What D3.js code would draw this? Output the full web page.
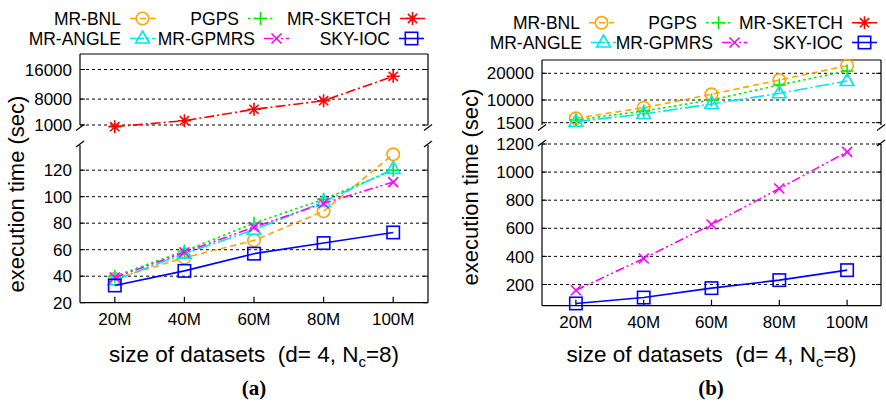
<!DOCTYPE html>
<html><head><meta charset="utf-8">
<script src="https://cdn.jsdelivr.net/npm/d3@7"></script>
<style>
body{margin:0;background:#fff;}
svg{display:block;font-family:"Liberation Sans",Arial,Helvetica,sans-serif;}
</style></head><body>
<svg id="chart" width="886" height="404"></svg>
<script>
// Dataset sizes on the x axis
const categories = ["20M", "40M", "60M", "80M", "100M"];

// (a) execution time in seconds
const aSketch = [550, 2160, 5240, 7570, 14160];
const aBnl    = [38, 54, 67, 89, 132];
const aPgps   = [40, 59, 80, 98, 120];
const aAngle  = [37, 57, 75, 96, 121];
const aGpmrs  = [39, 58, 77, 95, 111];
const aSkyIoc = [33, 44, 57, 65, 73];

// (b) execution time in seconds
const bBnl    = [3150, 7120, 12140, 17490, 22850];
const bPgps   = [2500, 5880, 10000, 15620, 20860];
const bAngle  = [1870, 4760, 8500, 12510, 17120];
const bGpmrs  = [159, 385, 627, 883, 1144];
const bSkyIoc = [65, 107, 174, 231, 302];

// Tick values of each axis segment
const aUpperTicks = [1000, 8000, 16000];
const aLowerTicks = [20, 40, 60, 80, 100, 120];
const bUpperTicks = [1500, 10000, 20000];
const bLowerTicks = [200, 400, 600, 800, 1000, 1200];

const seriesNames = ["MR-BNL", "PGPS", "MR-SKETCH", "MR-ANGLE", "MR-GPMRS", "SKY-IOC"];

// gnuplot-like line styles
const styles = {
  "MR-BNL":    {color: "#FFA500", dash: "6,4",            marker: "circle"},
  "PGPS":      {color: "#00EE00", dash: "2.5,3",          marker: "plus"},
  "MR-SKETCH": {color: "#FF0000", dash: "10,3,2,3",       marker: "star"},
  "MR-ANGLE":  {color: "#00E5EE", dash: "14,3,2,3",       marker: "triangle"},
  "MR-GPMRS":  {color: "#FF00FF", dash: "9,3,2,3,2,3",    marker: "x"},
  "SKY-IOC":   {color: "#0000FF", dash: null,             marker: "square"}
};

const panels = [
  {
    left: 80, right: 428, label: "(a)", labelX: 254,
    yTitle: {x: 24, y: 194},
    legendRows: [18.5, 38.5],
    legend: [
      {name: "MR-BNL", end: 121, row: 0}, {name: "PGPS", end: 239, row: 0}, {name: "MR-SKETCH", end: 391, row: 0},
      {name: "MR-ANGLE", end: 121, row: 1}, {name: "MR-GPMRS", end: 255, row: 1}, {name: "SKY-IOC", end: 390, row: 1}
    ],
    upper: {top: 54, bottom: 125, domain: [1000, 16000], range: [125, 69.5], ticks: aUpperTicks,
            series: [["MR-SKETCH", aSketch]]},
    lower: {top: 145, bottom: 302.7, domain: [20, 139], ticks: aLowerTicks, labelBottom: true,
            series: [["MR-BNL", aBnl], ["PGPS", aPgps], ["MR-ANGLE", aAngle], ["MR-GPMRS", aGpmrs], ["SKY-IOC", aSkyIoc]]}
  },
  {
    left: 542, right: 881, label: "(b)", labelX: 711,
    yTitle: {x: 478, y: 187},
    legendRows: [22.7, 42.5],
    legend: [
      {name: "MR-BNL", end: 580, row: 0}, {name: "PGPS", end: 697, row: 0}, {name: "MR-SKETCH", end: 843, row: 0},
      {name: "MR-ANGLE", end: 582, row: 1}, {name: "MR-GPMRS", end: 713, row: 1}, {name: "SKY-IOC", end: 843, row: 1}
    ],
    upper: {top: 60, bottom: 125, domain: [1500, 20000], range: [122.7, 73.3], ticks: bUpperTicks,
            series: [["MR-BNL", bBnl], ["PGPS", bPgps], ["MR-ANGLE", bAngle]]},
    lower: {top: 144, bottom: 305.7, domain: [49, 1200], ticks: bLowerTicks, labelBottom: false,
            series: [["MR-GPMRS", bGpmrs], ["SKY-IOC", bSkyIoc]]}
  }
];

const svg = d3.select("#chart");

function drawMarker(g, type, x, y, color) {
  const m = g.append("g").attr("transform", `translate(${x},${y})`)
    .attr("fill", "none").attr("stroke", color).attr("stroke-width", 1.6);
  if (type === "circle") m.append("circle").attr("r", 6.2);
  else if (type === "square") m.append("rect").attr("x", -6.2).attr("y", -6.2).attr("width", 12.4).attr("height", 12.4);
  else if (type === "triangle") m.append("path").attr("d", "M0,-7.5L6.8,4.5L-6.8,4.5Z");
  else if (type === "plus") m.append("path").attr("d", "M-6.5,0H6.5M0,-6.5V6.5");
  else if (type === "x") m.append("path").attr("d", "M-5,-5L5,5M-5,5L5,-5");
  else if (type === "star") m.append("path").attr("d", "M-6.5,0H6.5M0,-6.5V6.5M-4.6,-4.6L4.6,4.6M-4.6,4.6L4.6,-4.6");
}

panels.forEach(p => {
  const g = svg.append("g");
  const x = d3.scaleLinear().domain([0.5, categories.length + 0.5]).range([p.left, p.right]);

  const segs = [
    {s: p.upper, y: d3.scaleLinear().domain(p.upper.domain).range(p.upper.range)},
    {s: p.lower, y: d3.scaleLinear().domain(p.lower.domain).range([p.lower.bottom, p.lower.top])}
  ];

  segs.forEach(({s, y}, si) => {
    // dashed grid lines and y tick labels
    s.ticks.forEach(t => {
      const yy = y(t);
      const isBottom = Math.abs(yy - s.bottom) < 0.5 && si === 1;
      if (!isBottom) {
        g.append("line").attr("x1", p.left).attr("x2", p.right).attr("y1", yy).attr("y2", yy)
          .attr("stroke", "#000").attr("stroke-width", 1).attr("stroke-dasharray", "3,3");
      }
      g.append("line").attr("x1", p.left).attr("x2", p.left + 5).attr("y1", yy).attr("y2", yy).attr("stroke", "#000");
      g.append("line").attr("x1", p.right - 5).attr("x2", p.right).attr("y1", yy).attr("y2", yy).attr("stroke", "#000");
      g.append("text").attr("x", p.left - 8).attr("y", yy).attr("dy", "0.36em")
        .attr("text-anchor", "end").attr("font-size", 17).text(t);
    });

    // frame pieces
    const frame = g.append("g").attr("stroke", "#000").attr("stroke-width", 1.2).attr("fill", "none");
    frame.append("line").attr("x1", p.left).attr("x2", p.left).attr("y1", s.top).attr("y2", s.bottom);
    frame.append("line").attr("x1", p.right).attr("x2", p.right).attr("y1", s.top).attr("y2", s.bottom);
    if (si === 0) {
      frame.append("line").attr("x1", p.left).attr("x2", p.right).attr("y1", s.top).attr("y2", s.top);
      [p.left, p.right].forEach(ax => frame.append("line")
        .attr("x1", ax - 4).attr("y1", s.bottom + 5.5).attr("x2", ax + 4).attr("y2", s.bottom - 0.5));
    } else {
      frame.append("line").attr("x1", p.left).attr("x2", p.right).attr("y1", s.bottom).attr("y2", s.bottom);
      [p.left, p.right].forEach(ax => frame.append("line")
        .attr("x1", ax - 4).attr("y1", s.top + 2).attr("x2", ax + 4).attr("y2", s.top - 4));
      // x ticks and labels
      categories.forEach((c, i) => {
        frame.append("line").attr("x1", x(i + 1)).attr("x2", x(i + 1)).attr("y1", s.bottom).attr("y2", s.bottom - 6);
        g.append("text").attr("x", x(i + 1)).attr("y", s.bottom + 22).attr("text-anchor", "middle")
          .attr("font-size", 17).text(c);
      });
    }

    // series lines and markers
    s.series.forEach(([name, vals]) => {
      const st = styles[name];
      const line = d3.line().x((d, i) => x(i + 1)).y(d => y(d));
      g.append("path").attr("d", line(vals)).attr("fill", "none").attr("stroke", st.color)
        .attr("stroke-width", 1.6).attr("stroke-dasharray", st.dash);
      vals.forEach((v, i) => drawMarker(g, st.marker, x(i + 1), y(v), st.color));
    });
  });

  // legend
  p.legend.forEach(item => {
    const st = styles[item.name];
    const ly = p.legendRows[item.row];
    g.append("text").attr("x", item.end).attr("y", ly).attr("dy", "0.36em").attr("text-anchor", "end")
      .attr("font-size", 17.5).text(item.name);
    const x0 = item.end + 9, x1 = item.end + 34;
    g.append("line").attr("x1", x0).attr("x2", x1).attr("y1", ly).attr("y2", ly)
      .attr("stroke", st.color).attr("stroke-width", 1.6).attr("stroke-dasharray", st.dash);
    drawMarker(g, st.marker, (x0 + x1) / 2, ly, st.color);
  });

  // axis titles
  g.append("text").attr("transform", `translate(${p.yTitle.x},${p.yTitle.y}) rotate(-90)`)
    .attr("text-anchor", "middle").attr("font-size", 22).text("execution time (sec)");
  const xt = g.append("text").attr("x", (p.left + p.right) / 2).attr("y", 362)
    .attr("text-anchor", "middle").attr("font-size", 22.5);
  xt.append("tspan").text("size of datasets\u00a0\u00a0(d= 4, N");
  xt.append("tspan").attr("dy", 5).attr("font-size", 15).text("c");
  xt.append("tspan").attr("dy", -5).text("=8)");

  g.append("text").attr("x", p.labelX).attr("y", 395).attr("text-anchor", "middle")
    .attr("font-family", "'Liberation Serif','Times New Roman',serif").attr("font-weight", "bold")
    .attr("font-size", 21).text(p.label);
});
</script>
</body></html>
